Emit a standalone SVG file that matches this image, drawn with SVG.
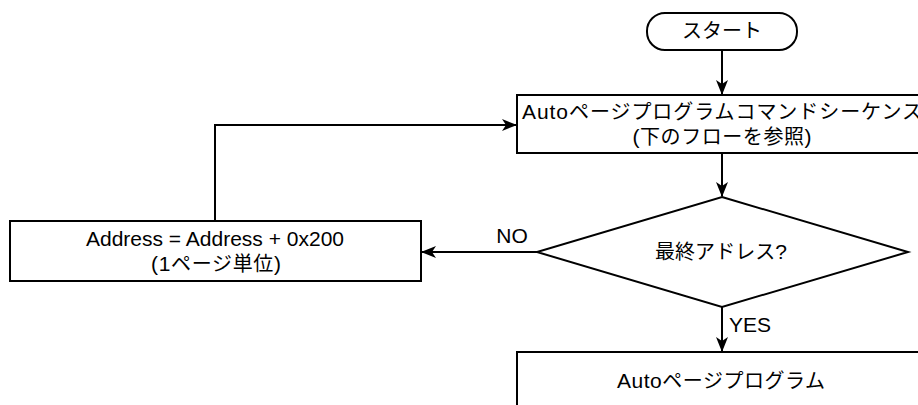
<svg xmlns="http://www.w3.org/2000/svg" width="918" height="405" viewBox="0 0 918 405">
<defs>
<style>
.shape{fill:#ffffff;stroke:#000000;stroke-width:2}
.edge{fill:none;stroke:#000000;stroke-width:2}
text{font-family:"Liberation Sans","Noto Sans CJK JP",Arial,sans-serif;font-size:20px;fill:#000000;text-anchor:middle}
.lat{font-size:21px}
</style>
<marker id="arr" viewBox="0 0 15 12" refX="14" refY="6" markerWidth="15" markerHeight="12" markerUnits="userSpaceOnUse" orient="auto">
<path d="M0,0 L15,6 L0,12 L4,6 Z" fill="#000000"/>
</marker>
</defs>
<rect width="918" height="405" fill="#ffffff"/>
<g id="connectors">
<path class="edge" d="M722,50 L722,94" marker-end="url(#arr)"/>
<path class="edge" d="M722,153 L722,196" marker-end="url(#arr)"/>
<path class="edge" d="M722,307 L722,351" marker-end="url(#arr)"/>
<path class="edge" d="M537,252 L422,252" marker-end="url(#arr)"/>
<path class="edge" d="M215,221 L215,125 L516,125" marker-end="url(#arr)"/>
<text class="lat" x="512" y="243">NO</text>
<text class="lat" x="750" y="332">YES</text>
</g>
<g id="start">
<rect class="shape" x="647" y="13" width="150" height="37" rx="18" ry="18"/>
<text x="722" y="38" textLength="80" lengthAdjust="spacing">スタート</text>
</g>
<g id="sequence">
<rect class="shape" x="517" y="95" width="410" height="58"/>
<text x="722" y="119" textLength="400" lengthAdjust="spacing"><tspan class="lat">Auto</tspan>ページプログラムコマンドシーケンス</text>
<text x="722" y="144" textLength="179" lengthAdjust="spacing"><tspan class="lat">(</tspan>下のフローを参照<tspan class="lat">)</tspan></text>
</g>
<g id="decision">
<polygon class="shape" points="722,197 908,252 722,307 537,252"/>
<text x="721" y="259" textLength="132" lengthAdjust="spacing">最終アドレス<tspan class="lat">?</tspan></text>
</g>
<g id="increment">
<rect class="shape" x="10" y="221" width="411" height="60"/>
<text class="lat" x="215" y="246">Address = Address + 0x200</text>
<text x="216" y="271" textLength="130" lengthAdjust="spacing"><tspan class="lat">(1</tspan>ページ単位<tspan class="lat">)</tspan></text>
</g>
<g id="program">
<rect class="shape" x="517" y="352" width="410" height="60"/>
<text x="721" y="388" textLength="208" lengthAdjust="spacing"><tspan class="lat">Auto</tspan>ページプログラム</text>
</g>
</svg>
